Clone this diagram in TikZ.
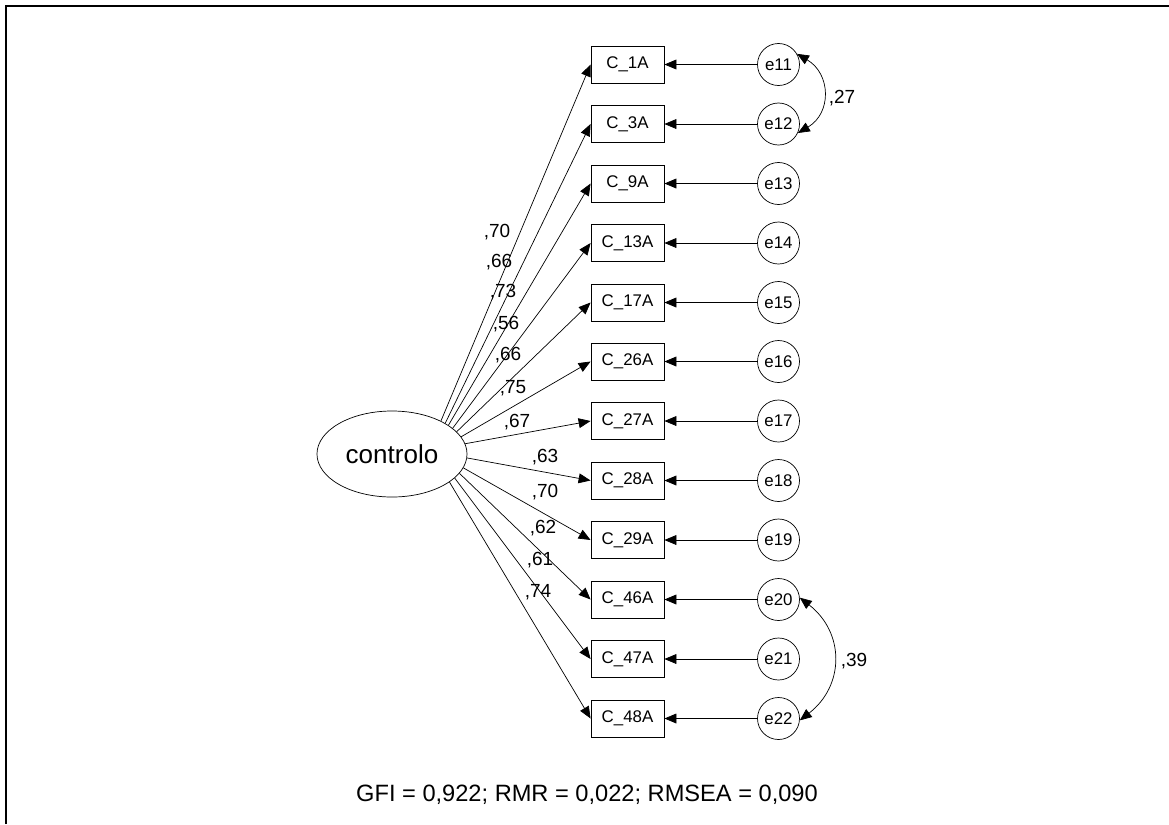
\documentclass[tikz,border=0pt]{standalone}
\usepackage{fontspec}
\setsansfont{Liberation Sans}
\usetikzlibrary{arrows.meta,shapes.geometric}

\begin{document}
\begin{tikzpicture}[x=0.025cm, y=-0.025cm, font=\sffamily\fontsize{12}{14}\selectfont]
\tikzstyle{item}=[draw, line width=0.6pt, minimum width=1.825cm, minimum height=0.925cm, inner sep=0pt]
\tikzstyle{err}=[draw, circle, line width=0.5pt, minimum size=1.05cm, inner sep=0pt]
\tikzstyle{load}=[-{Triangle[length=8.5pt, width=7pt]}, line width=0.5pt]
\tikzstyle{cov}=[{Triangle[length=8.5pt, width=7pt]}-{Triangle[length=8.5pt, width=7pt]}, line width=0.5pt]
\tikzstyle{coef}=[inner sep=0pt, font=\sffamily\fontsize{13.5}{15}\selectfont]
\useasboundingbox (0,0) rectangle (1169,824);
\draw[line width=1.45pt] (6,824) -- (6,6) -- (1169,6);
% latent factor
\node[draw, ellipse, line width=0.5pt, minimum width=3.75cm, minimum height=2.15cm, font=\sffamily\fontsize{18.5}{20}\selectfont] (ctrl) at (392,454) {controlo};
% observed items
\node[item] (c1) at (627.5,64.5) {C\_1A}; \node[item] (c2) at (627.5,124) {C\_3A}; \node[item] (c3) at (627.5,183.5) {C\_9A};
\node[item] (c4) at (627.5,243) {C\_13A}; \node[item] (c5) at (627.5,302.5) {C\_17A}; \node[item] (c6) at (627.5,361.5) {C\_26A};
\node[item] (c7) at (627.5,421) {C\_27A}; \node[item] (c8) at (627.5,480.5) {C\_28A}; \node[item] (c9) at (627.5,540) {C\_29A};
\node[item] (c10) at (627.5,599.5) {C\_46A}; \node[item] (c11) at (627.5,659) {C\_47A}; \node[item] (c12) at (627.5,718.5) {C\_48A};
% error terms
\node[err] (e11) at (778.5,64.5) {e11}; \node[err] (e12) at (778.5,124) {e12}; \node[err] (e13) at (778.5,183.5) {e13};
\node[err] (e14) at (778.5,243) {e14}; \node[err] (e15) at (778.5,302.5) {e15}; \node[err] (e16) at (778.5,361.5) {e16};
\node[err] (e17) at (778.5,421) {e17}; \node[err] (e18) at (778.5,480.5) {e18}; \node[err] (e19) at (778.5,540) {e19};
\node[err] (e20) at (778.5,599.5) {e20}; \node[err] (e21) at (778.5,659) {e21}; \node[err] (e22) at (778.5,718.5) {e22};
% loadings
\draw[load] (ctrl.34) -- (c1.west); \draw[load] (ctrl.30) -- (c2.west); \draw[load] (ctrl.27) -- (c3.west);
\draw[load] (ctrl.23) -- (c4.west); \draw[load] (ctrl.19) -- (c5.west); \draw[load] (ctrl.14) -- (c6.west);
\draw[load] (ctrl.8) -- (c7.west); \draw[load] (ctrl.-3) -- (c8.west); \draw[load] (ctrl.-11) -- (c9.west);
\draw[load] (ctrl.-16) -- (c10.west); \draw[load] (ctrl.-21) -- (c11.west); \draw[load] (ctrl.-26) -- (c12.west);
\node[coef] (l1) at (497,232) {,70}; \node[coef] (l2) at (499,262) {,66}; \node[coef] (l3) at (503,292) {,73};
\node[coef] (l4) at (506,324) {,56}; \node[coef] (l5) at (508,355) {,66}; \node[coef] (l6) at (513,388) {,75};
\node[coef] (l7) at (517,422) {,67}; \node[coef] (l8) at (545,457) {,63}; \node[coef] (l9) at (545,492) {,70};
\node[coef] (l10) at (543,528) {,62}; \node[coef] (l11) at (540,560) {,61}; \node[coef] (l12) at (538,592) {,74};
% residuals
\draw[load] (e11) -- (c1); \draw[load] (e12) -- (c2); \draw[load] (e13) -- (c3);
\draw[load] (e14) -- (c4); \draw[load] (e15) -- (c5); \draw[load] (e16) -- (c6);
\draw[load] (e17) -- (c7); \draw[load] (e18) -- (c8); \draw[load] (e19) -- (c9);
\draw[load] (e20) -- (c10); \draw[load] (e21) -- (c11); \draw[load] (e22) -- (c12);
% covariances
\draw[cov] (e11.30) .. controls +(34,20) and +(34,-20) .. (e12.-25);
\node[coef] (r1) at (842,98) {,27};
\draw[cov] (e20.5) .. controls +(45,35) and +(45,-35) .. (e22.-5);
\node[coef] (r2) at (854,661) {,39};
\node[font=\sffamily\fontsize{16.8}{19}\selectfont] (fit) at (587,795) {GFI = 0,922; RMR = 0,022; RMSEA = 0,090};
\end{tikzpicture}
\end{document}
